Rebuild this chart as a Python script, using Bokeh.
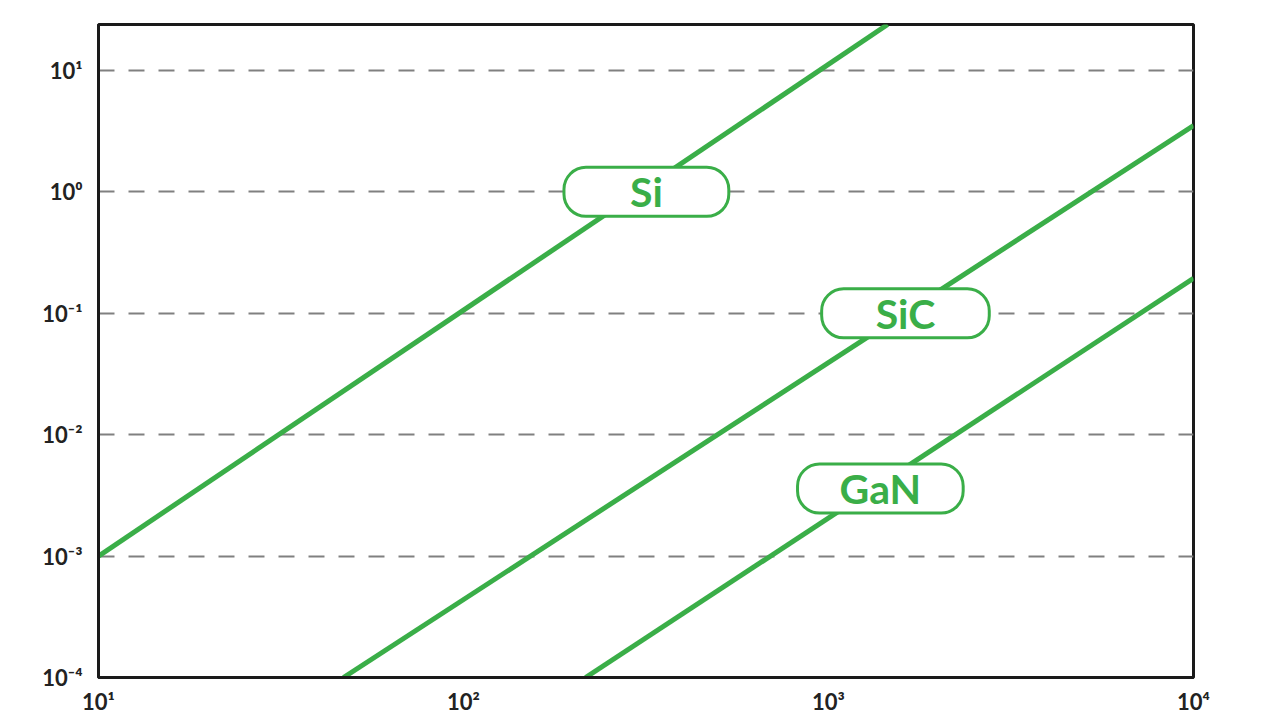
from bokeh.plotting import figure
from bokeh.models import FixedTicker, Label
from bokeh.embed import file_html
from bokeh.resources import INLINE

# ---- data ----
x_ticks = [10, 100, 1000, 10000]
x_tick_labels = ["10¹", "10²", "10³", "10⁴"]
y_ticks = [1e-4, 1e-3, 1e-2, 1e-1, 1, 10]
y_tick_labels = ["10⁻⁴", "10⁻³", "10⁻²", "10⁻¹", "10⁰", "10¹"]

si_x = [10, 1452]
si_y = [1e-3, 23.9]
sic_x = [46.9, 10000]
sic_y = [1e-4, 3.52]
gan_x = [216, 10000]
gan_y = [1e-4, 0.194]

labels = ["Si", "SiC", "GaN"]
label_x = [317, 1625, 1387]
label_y = [1.0, 0.1, 0.0036]
label_pad = [66, 54, 42]

GREEN = "#3aae48"
FONT = "Lato"

p = figure(width=1272, height=717, x_axis_type="log", y_axis_type="log",
           x_range=(10, 1e4), y_range=(1e-4, 23.9),
           output_backend="svg", toolbar_location=None,
           min_border_left=98, min_border_right=79,
           min_border_top=24, min_border_bottom=36)
p.background_fill_color = "white"
p.border_fill_color = "white"
p.outline_line_color = "#1a1a1a"
p.outline_line_width = 3

p.xaxis.ticker = FixedTicker(ticks=x_ticks)
p.yaxis.ticker = FixedTicker(ticks=y_ticks)
p.xaxis.major_label_overrides = {t: l for t, l in zip(x_ticks, x_tick_labels)}
p.yaxis.major_label_overrides = {t: l for t, l in zip(y_ticks, y_tick_labels)}
for ax in (p.xaxis, p.yaxis):
    ax.axis_line_color = "#1a1a1a"
    ax.axis_line_width = 3
    ax.major_tick_line_color = None
    ax.minor_tick_line_color = None
    ax.major_label_text_font = FONT
    ax.major_label_text_font_size = "22px"
    ax.major_label_text_font_style = "bold"
    ax.major_label_text_color = "#222222"
p.xaxis.major_label_standoff = 4
p.yaxis.major_label_standoff = 10

p.xgrid.visible = False
p.ygrid.grid_line_color = "#808080"
p.ygrid.grid_line_width = 2
p.ygrid.grid_line_dash = "16 14"

for xs, ys in ((si_x, si_y), (sic_x, sic_y), (gan_x, gan_y)):
    p.line(xs, ys, line_color=GREEN, line_width=5)

for t, lx, ly, pad in zip(labels, label_x, label_y, label_pad):
    p.add_layout(Label(x=lx, y=ly, text=t, text_align="center", text_baseline="middle",
                       text_font=FONT, text_font_size="41px", text_font_style="bold",
                       text_color=GREEN,
                       background_fill_color="white", border_line_color=GREEN,
                       border_line_width=3,
                       padding=dict(left=pad, right=pad, top=0, bottom=0),
                       border_radius=22))

open("out.html", "w").write(file_html(p, INLINE))
